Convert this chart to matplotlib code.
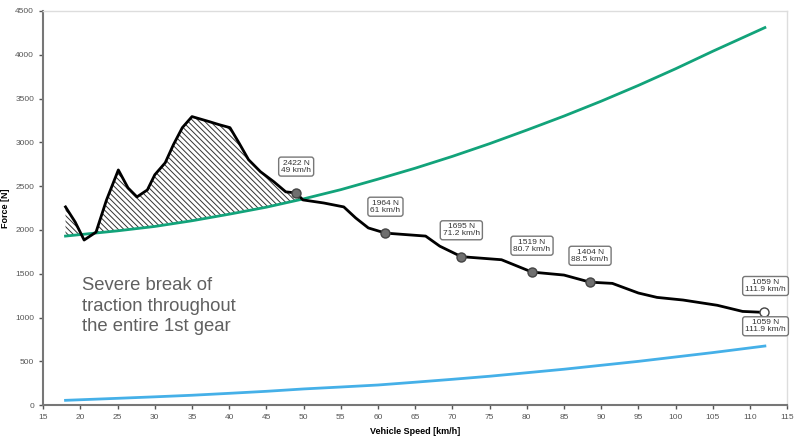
import numpy as np
import matplotlib
matplotlib.use('Agg')
import matplotlib.pyplot as plt

plt.rcParams['font.family'] = ['Liberation Sans', 'DejaVu Sans']

# ------------------------------------------------------------
# 데이터
# ------------------------------------------------------------
# traction force (black)
trac_v = [18.0, 19.3, 20.5, 22.1, 23.5, 25.1, 26.4, 27.6, 29.0, 30.0, 31.4,
          32.5, 33.7, 35.0, 37.3, 38.6, 40.1, 41.3, 42.6, 44.2, 46.0, 47.6,
          49.0, 49.9, 52.7, 55.4, 57.0, 58.7, 61.0, 66.4, 68.3, 71.2, 76.6,
          80.7, 85.0, 88.5, 91.5, 95.0, 97.5, 101.0, 105.6, 109.0, 111.9]
trac_f = [2263, 2090, 1885, 1975, 2340, 2685, 2480, 2377, 2457, 2630, 2767,
          2973, 3168, 3294, 3237, 3203, 3168, 2996, 2802, 2665, 2550, 2435,
          2422, 2343, 2308, 2263, 2137, 2023, 1964, 1930, 1815, 1695, 1660,
          1519, 1485, 1404, 1390, 1280, 1230, 1200, 1140, 1070, 1059]

# driving resistance (green)
res_v = [18, 25, 30, 35, 40, 45, 50, 55, 60, 65, 70, 75, 80, 85, 90, 95, 100, 105, 112]
res_f = [1930, 1990, 2040, 2105, 2180, 2260, 2355, 2460, 2580, 2705, 2840,
         2985, 3140, 3300, 3470, 3650, 3840, 4040, 4310]

# air resistance (blue)
air_v = [18, 25, 30, 35, 40, 45, 50, 55, 60, 65, 70, 75, 80, 85, 90, 95, 100, 105, 112]
air_f = [55, 78, 95, 113, 135, 158, 185, 207, 230, 262, 295, 330, 370, 410,
         455, 500, 550, 600, 675]

# 주석 포인트
mark_v = [49, 61, 71.2, 80.7, 88.5]
mark_f = [2422, 1964, 1695, 1519, 1404]
end_v = 111.9
end_f = 1059

xticks = list(range(15, 120, 5))
yticks = list(range(0, 5000, 500))

# ------------------------------------------------------------
fig = plt.figure(figsize=(8, 4.38), dpi=100)
ax = fig.add_axes([0.054, 0.075, 0.93, 0.9])

GREEN = '#12a37a'
BLUE = '#45b0e8'

ax.plot(air_v, air_f, color=BLUE, lw=2, zorder=3)
ax.plot(res_v, res_f, color=GREEN, lw=2, zorder=3)

# hatch area: traction above resistance
v_grid = np.linspace(18, 52, 400)
t_i = np.interp(v_grid, trac_v, trac_f)
r_i = np.interp(v_grid, res_v, res_f)
plt.rcParams['hatch.color'] = '#333333'
plt.rcParams['hatch.linewidth'] = 0.7
ax.fill_between(v_grid, t_i, r_i, where=t_i > r_i, interpolate=True,
                facecolor='white', edgecolor='#333333', hatch='\\\\\\\\\\\\',
                linewidth=0, zorder=2)

ax.plot(trac_v, trac_f, color='black', lw=2, zorder=4)
ax.plot(mark_v, mark_f, 'o', ms=6.5, mfc='#6f6f6f', mec='#444444', mew=1, zorder=5)
ax.plot([end_v], [end_f], 'o', ms=6.5, mfc='white', mec='#444444', mew=1, zorder=5)

box = dict(boxstyle='round,pad=0.3', fc='white', ec='#777777', lw=1)
for v, f in zip(mark_v, mark_f):
    lbl = f"{f} N\n{v:g} km/h"
    ax.annotate(lbl, (v, f), xytext=(0, 19), textcoords='offset points',
                ha='center', va='center', fontsize=6, color='#333333',
                bbox=box, linespacing=1.0, zorder=6)
end_lbl = f"{end_f} N\n{end_v} km/h"
ax.annotate(end_lbl, (end_v, end_f), xytext=(1, 19), textcoords='offset points',
            ha='center', va='center', fontsize=6, color='#333333',
            bbox=box, linespacing=1.0, zorder=6)
ax.annotate(end_lbl, (end_v, end_f), xytext=(1, -10), textcoords='offset points',
            ha='center', va='center', fontsize=6, color='#333333',
            bbox=box, linespacing=1.0, zorder=6)

ax.text(20.2, 1130, 'Severe break of\ntraction throughout\nthe entire 1st gear',
        fontsize=13.3, color='#606060', va='center', ha='left', linespacing=1.25)

ax.set_xlim(15, 115)
ax.set_ylim(0, 4500)
ax.set_xticks(xticks)
ax.set_yticks(yticks)
ax.tick_params(labelsize=6, colors='#555555', length=3, width=1)
ax.set_xlabel('Vehicle Speed [km/h]', fontsize=6.5, fontweight='bold', labelpad=4)
ax.set_ylabel('Force [N]', fontsize=6.5, fontweight='bold', labelpad=4)

for s in ['left', 'bottom']:
    ax.spines[s].set_color('#777777')
    ax.spines[s].set_linewidth(1.5)
for s in ['top', 'right']:
    ax.spines[s].set_color('#dddddd')
    ax.spines[s].set_linewidth(1)

plt.savefig('out.png', dpi=100)
plt.close()
